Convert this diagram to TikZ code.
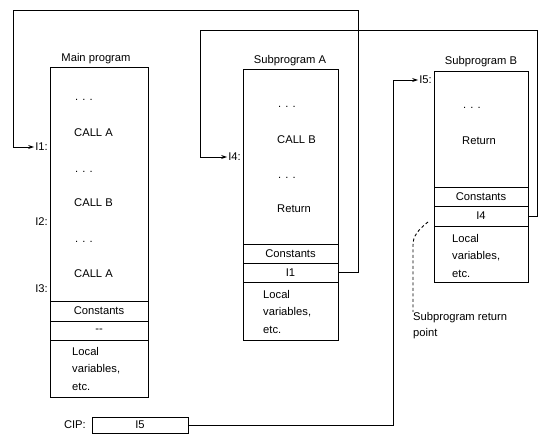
\documentclass[tikz,border=0pt]{standalone}
\usepackage{fontspec}
\setmainfont{Liberation Sans}
\usetikzlibrary{arrows.meta}

\tikzset{
  cell/.style={draw, line width=.9pt, inner sep=0pt, outer sep=0pt},
  txt/.style={anchor=west, inner sep=0pt},
  lbl/.style={anchor=east, inner sep=1pt},
  loc/.style={anchor=north west, inner sep=0pt, align=left, font=\fontsize{11.2}{17.5}\selectfont},
  link/.style={line width=.9pt, -{Stealth[length=6pt,width=4pt]}}
}

\begin{document}
\begin{tikzpicture}[x=1pt, y=-1pt, font=\fontsize{11.2}{12}\selectfont]
        \useasboundingbox (0,0) rectangle (539,435);
        % main program
        \node (mtitle) at (96,59) {Main program};
        \node[cell, minimum width=98pt, minimum height=234pt] (mcode) at (99,184) {};
        \node[cell, minimum width=98pt, minimum height=20pt] (mconst) at (99,311) {Constants};
        \node[cell, minimum width=98pt, minimum height=19pt] (mret) at (99,330.5) {-{}-};
        \node[cell, minimum width=98pt, minimum height=57pt] (mloc) at (99,368.5) {};
        \node[loc] (mloctxt) at (72,347) {Local\\variables,\\etc.};
        \node[txt] (m1) at (75,100) {. . .};
        \node[txt] (m2) at (74,133) {CALL A};
        \node[txt] (m3) at (75,172) {. . .};
        \node[txt] (m4) at (74,203) {CALL B};
        \node[txt] (m5) at (75,242) {. . .};
        \node[txt] (m6) at (74,274) {CALL A};
        \node[lbl] (I1) at (49,147) {I1:};
        \node[lbl] (I2) at (49,222) {I2:};
        \node[lbl] (I3) at (49,289) {I3:};
        % subprogram A
        \node (atitle) at (290,61) {Subprogram A};
        \node[cell, minimum width=95pt, minimum height=175pt] (acode) at (290.5,156.5) {};
        \node[cell, minimum width=95pt, minimum height=19pt] (aconst) at (290.5,253.5) {Constants};
        \node[cell, minimum width=95pt, minimum height=19pt] (aret) at (290.5,272.5) {I1};
        \node[cell, minimum width=95pt, minimum height=58pt] (aloc) at (290.5,311) {};
        \node[loc] (aloctxt) at (263,290) {Local\\variables,\\etc.};
        \node[txt] (a1) at (278,107) {. . .};
        \node[txt] (a2) at (277,140) {CALL B};
        \node[txt] (a3) at (278,178) {. . .};
        \node[txt] (a4) at (277,209) {Return};
        \node[lbl] (I4) at (242,157) {I4:};
        % subprogram B
        \node (btitle) at (481,62) {Subprogram B};
        \node[cell, minimum width=94pt, minimum height=116pt] (bcode) at (481,129) {};
        \node[cell, minimum width=94pt, minimum height=19pt] (bconst) at (481,196.5) {Constants};
        \node[cell, minimum width=94pt, minimum height=20pt] (bret) at (481,216) {I4};
        \node[cell, minimum width=94pt, minimum height=56pt] (bloc) at (481,254) {};
        \node[loc] (bloctxt) at (452,234) {Local\\variables,\\etc.};
        \node[txt] (b1) at (463,108) {. . .};
        \node[txt] (b2) at (462,141) {Return};
        \node[lbl] (I5) at (433,80) {I5:};
        % return point note
        \node[anchor=north west, inner sep=0pt, align=left, font=\fontsize{11.2}{16}\selectfont] (rnote) at (413,312) {Subprogram return\\point};
        \coordinate (rtop) at (428,222);
        \draw[line width=.9pt, dash pattern=on 3pt off 2.5pt] (rtop) .. controls (418,230) and (413,236) .. (413,245) -- (rnote.north west);
        % current instruction pointer
        \node[cell, minimum width=96pt, minimum height=16pt] (cip) at (140,425) {I5};
        \node[lbl] (ciplbl) at (cip.west) [xshift=-5pt] {CIP:};
        % connectors
        \draw[link] (aret.east) -- (358,272.5) -- (358,10) -- (13,10) |- (I1.west);
        \draw[link] (bret.east) -- (537,216) -- (537,30) -- (200,30) |- (I4.west);
        \draw[link] (cip.east) -- (393,425) |- (I5.west);
    \end{tikzpicture}
\end{document}
